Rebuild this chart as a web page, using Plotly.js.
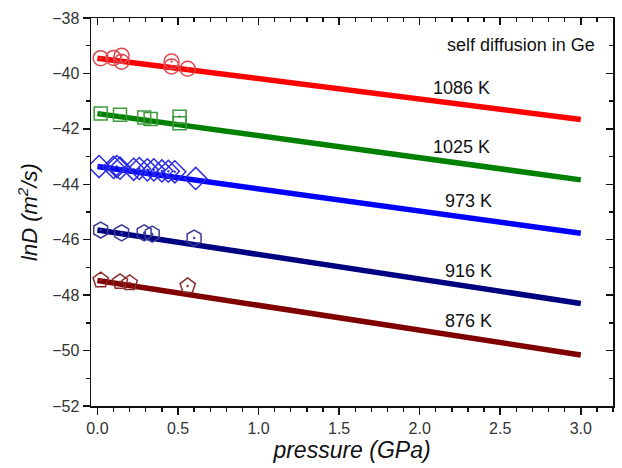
<!DOCTYPE html>
<html><head><meta charset="utf-8">
<script src="https://cdn.plot.ly/plotly-3.0.1.min.js"></script>
<style>html,body{margin:0;padding:0;background:#fff}#chart{width:622px;height:468px}</style>
</head><body><div id="chart"></div>
<script>
// measured points: pressure (GPa) vs lnD
const x1086 = [0.02, 0.10, 0.15, 0.15, 0.46, 0.46, 0.56];
const y1086 = [-39.45, -39.44, -39.36, -39.58, -39.57, -39.75, -39.83];
const x1025 = [0.02, 0.14, 0.29, 0.33, 0.51, 0.51];
const y1025 = [-41.45, -41.49, -41.59, -41.64, -41.56, -41.80];
const x973 = [0.01, 0.10, 0.12, 0.14, 0.225, 0.26, 0.31, 0.35, 0.40, 0.44, 0.48, 0.61];
const y973 = [-43.36, -43.39, -43.36, -43.42, -43.46, -43.43, -43.48, -43.48, -43.52, -43.53, -43.55, -43.79];
const x916 = [0.02, 0.15, 0.29, 0.34, 0.60];
const y916 = [-45.65, -45.75, -45.75, -45.80, -45.94];
const x876 = [0.02, 0.14, 0.20, 0.56];
const y876 = [-47.46, -47.52, -47.56, -47.67];
// fitted lines
const fitX = [0, 3];
const fit1086 = [-39.45, -41.66];
const fit1025 = [-41.45, -43.84];
const fit973 = [-43.36, -45.77];
const fit916 = [-45.65, -48.30];
const fit876 = [-47.47, -50.16];
const tempLabels = ['1086 K', '1025 K', '973 K', '916 K', '876 K'];

const series = [
  {fx: fitX, fy: fit1086, px: x1086, py: y1086, lc: '#ff0000', mc: '#e0484f', sym: 'circle-open-dot', size: 15},
  {fx: fitX, fy: fit1025, px: x1025, py: y1025, lc: '#008000', mc: '#3c9a3c', sym: 'square-open-dot', size: 13},
  {fx: fitX, fy: fit973, px: x973, py: y973, lc: '#0000ff', mc: '#2a2ae8', sym: 'diamond-open-dot', size: 17},
  {fx: fitX, fy: fit916, px: x916, py: y916, lc: '#000080', mc: '#3a3a9a', sym: 'hexagon-open-dot', size: 16},
  {fx: fitX, fy: fit876, px: x876, py: y876, lc: '#800000', mc: '#8a2a2a', sym: 'pentagon-open-dot', size: 16}
];
const traces = [];
series.forEach(s => {
  traces.push({x: s.fx, y: s.fy, mode: 'lines', line: {color: s.lc, width: 5.5}, showlegend: false, hoverinfo: 'skip'});
  traces.push({x: s.px, y: s.py, mode: 'markers', marker: {symbol: s.sym, size: s.size, color: s.mc, line: {width: 1.5, color: s.mc}}, showlegend: false});
});

const labelPos = [[2.26, -40.52], [2.26, -42.64], [2.30, -44.62], [2.30, -47.14], [2.30, -48.94]];
const annotations = tempLabels.map((t, i) => ({x: labelPos[i][0], y: labelPos[i][1], xref: 'x', yref: 'y', text: t, showarrow: false, font: {size: 18, color: '#111'}}));
annotations.push({x: 2.63, y: -38.97, xref: 'x', yref: 'y', text: 'self diffusion in Ge', showarrow: false, font: {size: 18, color: '#111'}});

const xr = [-0.04, 3.2], yr = [-52, -38];
const layout = {
  width: 622, height: 468,
  margin: {l: 91, r: 9, t: 18, b: 62},
  paper_bgcolor: '#fff', plot_bgcolor: '#fff',
  font: {family: 'Liberation Sans, Arial, sans-serif', color: '#222'},
  xaxis: {range: xr, tick0: 0, dtick: 0.5, tickformat: '.1f', ticks: 'outside', ticklen: 7, tickwidth: 1.5, tickcolor: '#111',
    showline: true, linecolor: '#111', linewidth: 1.5, showgrid: false, zeroline: false,
    minor: {dtick: 0.1, ticks: 'outside', ticklen: 4, tickwidth: 1.3, tickcolor: '#111', showgrid: false},
    tickfont: {size: 16, color: '#333'},
    title: {text: 'pressure (GPa)', font: {size: 23, color: '#111', style: 'italic'}, standoff: 2}},
  yaxis: {range: yr, tick0: -52, dtick: 2, ticks: 'outside', ticklen: 7, tickwidth: 1.5, tickcolor: '#111',
    showline: true, linecolor: '#111', linewidth: 1.5, showgrid: false, zeroline: false,
    minor: {dtick: 1, ticks: 'outside', ticklen: 4, tickwidth: 1.3, tickcolor: '#111', showgrid: false},
    tickfont: {size: 16, color: '#333'},
    title: {text: 'lnD (m<sup>2</sup>/s)', font: {size: 22, color: '#111', style: 'italic'}, standoff: 8}},
  xaxis2: {range: xr, overlaying: 'x', side: 'top', anchor: 'y', tick0: 0, dtick: 0.5, ticks: 'inside', ticklen: 7, tickwidth: 1.5, tickcolor: '#111',
    showline: true, linecolor: '#111', linewidth: 1.5, showgrid: false, zeroline: false, showticklabels: false,
    minor: {dtick: 0.1, ticks: 'inside', ticklen: 4, tickwidth: 1.3, tickcolor: '#111', showgrid: false}},
  yaxis2: {range: yr, overlaying: 'y', side: 'right', anchor: 'x', tick0: -52, dtick: 2, ticks: 'inside', ticklen: 7, tickwidth: 1.5, tickcolor: '#111',
    showline: true, linecolor: '#111', linewidth: 1.5, showgrid: false, zeroline: false, showticklabels: false,
    minor: {dtick: 1, ticks: 'inside', ticklen: 4, tickwidth: 1.3, tickcolor: '#111', showgrid: false}},
  annotations: annotations
};
// invisible trace to activate the mirrored frame axes
traces.push({x: xr, y: yr, xaxis: 'x2', yaxis: 'y2', mode: 'markers', marker: {opacity: 0}, showlegend: false, hoverinfo: 'skip'});
Plotly.newPlot('chart', traces, layout, {displayModeBar: false, staticPlot: true});
</script>
</body></html>
